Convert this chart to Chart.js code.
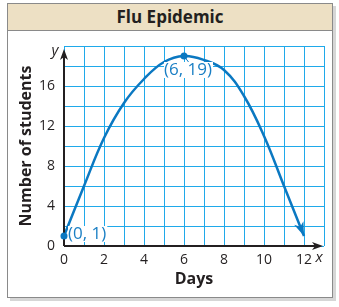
<!DOCTYPE html>
<html>
<head>
<meta charset="utf-8">
<script src="https://cdn.jsdelivr.net/npm/chart.js@4"></script>
<style>
  html, body { margin: 0; padding: 0; background: #fff; }
  #frame {
    position: absolute; left: 7px; top: 3px; width: 324px; height: 293px;
    border: 1.5px solid #8a8a8a; box-shadow: 3px 3px 0 #d6d6d6; background: #fff;
  }
  #header {
    height: 26px; background: #ede0c4; border-bottom: 1.5px solid #8a8a8a;
    font: bold 17px "Open Sans", sans-serif; color: #231f20; text-align: center; line-height: 26px;
  }
  #wrap { position: absolute; left: 0; top: 0; width: 339px; height: 307px; }
</style>
</head>
<body>
<div id="frame"><div id="header">Flu Epidemic</div></div>
<div id="wrap"><canvas id="chart" width="339" height="307"></canvas></div>
<script>
const days = [0, 1, 2, 3, 4, 5, 6, 7, 8, 9, 10, 11, 12];
const students = [1, 6, 10.8, 14.3, 16.7, 18.4, 19, 18.6, 17.6, 15, 11, 6, 1];
const xTicks = [0, 2, 4, 6, 8, 10, 12];
const yTicks = [0, 4, 8, 12, 16];
const marked = [0, 6];

const blue = "#0b78c1";
const grid = "#1fa9ea";

const extras = {
  id: "extras",
  afterDatasetsDraw(chart) {
    const ctx = chart.ctx;
    const x = chart.scales.x, y = chart.scales.y;
    const a = chart.chartArea;
    ctx.save();
    // axes
    ctx.strokeStyle = "#231f20";
    ctx.fillStyle = "#231f20";
    ctx.lineWidth = 2;
    ctx.beginPath();
    ctx.moveTo(a.left, a.bottom); ctx.lineTo(a.left, a.top + 6);
    ctx.moveTo(a.left, a.bottom); ctx.lineTo(a.right - 6, a.bottom);
    ctx.stroke();
    ctx.beginPath();
    ctx.moveTo(a.left, a.top + 3); ctx.lineTo(a.left - 4, a.top + 14); ctx.lineTo(a.left, a.top + 11); ctx.lineTo(a.left + 4, a.top + 14);
    ctx.closePath(); ctx.fill();
    ctx.beginPath();
    ctx.moveTo(a.right - 1, a.bottom); ctx.lineTo(a.right - 12, a.bottom - 4); ctx.lineTo(a.right - 9, a.bottom); ctx.lineTo(a.right - 12, a.bottom + 4);
    ctx.closePath(); ctx.fill();
    ctx.font = "italic 15px 'Open Sans', sans-serif";
    ctx.textAlign = "center"; ctx.textBaseline = "middle";
    ctx.fillText("y", a.left - 9, a.top + 5);
    ctx.fillText("x", a.right - 5, a.bottom + 12);

    // curve arrowhead
    const meta = chart.getDatasetMeta(0).data;
    const last = meta[meta.length - 1];
    const prev = meta[meta.length - 2];
    const cp = last.cp1x !== undefined ? { x: last.cp1x, y: last.cp1y } : prev;
    let dx = last.x - cp.x, dy = last.y - cp.y;
    const len = Math.hypot(dx, dy); dx /= len; dy /= len;
    const px = -dy, py = dx;
    ctx.fillStyle = blue;
    ctx.beginPath();
    ctx.moveTo(last.x, last.y);
    ctx.lineTo(last.x - dx * 14 + px * 5, last.y - dy * 14 + py * 5);
    ctx.lineTo(last.x - dx * 10, last.y - dy * 10);
    ctx.lineTo(last.x - dx * 14 - px * 5, last.y - dy * 14 - py * 5);
    ctx.closePath(); ctx.fill();

    // marked points and labels
    ctx.font = "17px 'Open Sans', sans-serif";
    marked.forEach((i) => {
      const px0 = x.getPixelForValue(days[i]);
      const py0 = y.getPixelForValue(students[i]);
      const text = "(" + days[i] + ", " + students[i] + ")";
      const w = ctx.measureText(text).width;
      let tx, ty;
      if (i === 0) { tx = px0 + 4; ty = py0 - 2; }
      else {
        tx = px0 - 20; ty = py0 + 14;
        ctx.strokeStyle = blue; ctx.lineWidth = 1;
        ctx.beginPath(); ctx.moveTo(px0, py0); ctx.lineTo(px0 + 6, py0 + 8); ctx.stroke();
      }
      ctx.fillStyle = "#fff";
      ctx.fillRect(tx, ty - 8, w + 1, 16);
      ctx.fillStyle = "#1a7fc4";
      ctx.textAlign = "left";
      ctx.fillText(text, tx, ty);
      ctx.fillStyle = blue;
      ctx.beginPath(); ctx.arc(px0, py0, 3.5, 0, Math.PI * 2); ctx.fill();
    });
    ctx.restore();
  }
};

new Chart(document.getElementById("chart"), {
  type: "line",
  data: {
    datasets: [{
      data: days.map((d, i) => ({ x: d, y: students[i] })),
      borderColor: blue,
      borderWidth: 2.5,
      pointRadius: 0,
      tension: 0.4,
      fill: false
    }]
  },
  options: {
    responsive: false,
    animation: false,
    layout: { padding: { top: 46, right: 15, left: 0, bottom: 18 } },
    plugins: { legend: { display: false }, tooltip: { enabled: false } },
    scales: {
      x: {
        type: "linear", min: 0, max: 13,
        afterFit: (s) => { s.height = 43; },
        afterBuildTicks: (s) => { s.ticks = days.concat([13]).map((v) => ({ value: v })); },
        grid: { color: grid, lineWidth: 1, drawTicks: false },
        border: { display: false },
        ticks: {
          padding: 6, autoSkip: false, maxRotation: 0, minRotation: 0,
          color: "#231f20", font: { family: "Open Sans", size: 14 },
          callback: (v) => (xTicks.includes(v) ? String(v) : "")
        },
        title: { display: true, text: "Days", color: "#231f20", font: { family: "Open Sans", size: 16, weight: "bold" }, padding: { bottom: 0 } }
      },
      y: {
        type: "linear", min: 0, max: 20,
        afterFit: (s) => { s.width = 64; },
        afterBuildTicks: (s) => { s.ticks = [0, 2, 4, 6, 8, 10, 12, 14, 16, 18, 20].map((v) => ({ value: v })); },
        grid: { color: grid, lineWidth: 1, drawTicks: false },
        border: { display: false },
        ticks: {
          padding: 9, autoSkip: false, color: "#231f20", font: { family: "Open Sans", size: 14 },
          callback: (v) => (yTicks.includes(v) ? String(v) : "")
        },
        title: { display: true, text: "Number of students", color: "#231f20", font: { family: "Open Sans", size: 16, weight: "bold" }, padding: { top: 17 } }
      }
    }
  },
  plugins: [extras]
});
</script>
</body>
</html>
